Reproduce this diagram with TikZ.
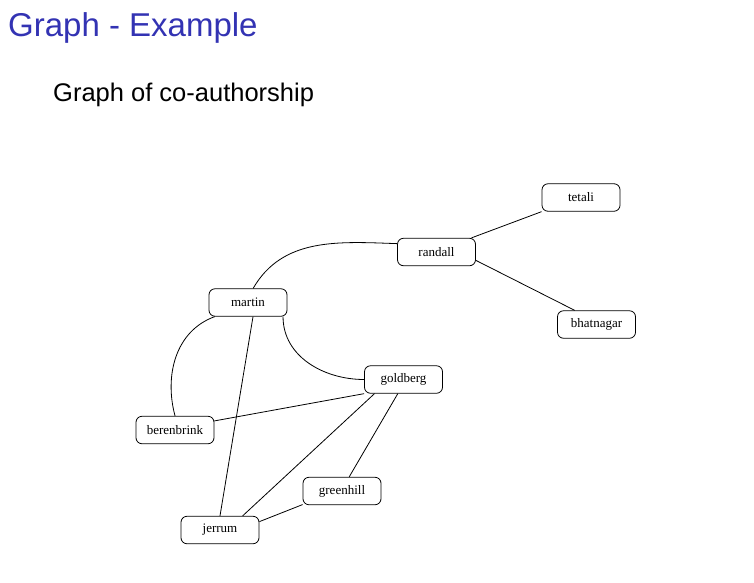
\documentclass[tikz,border=0pt]{standalone}
\usepackage{fontspec}
\setmainfont{Liberation Serif}
\newfontfamily\titlefont{Liberation Sans}
\usetikzlibrary{positioning}
\definecolor{TitleBlue}{HTML}{3333B3}

\begin{document}
\begin{tikzpicture}[
    x=1pt, y=-1pt,
    author/.style={rectangle, draw=black, fill=white, rounded corners=6pt, minimum height=27.5pt, minimum width=78pt, line width=0.8pt, font=\fontsize{13}{15}\selectfont, inner sep=0pt},
    link/.style={draw=black, line width=0.8pt}
  ]
    \useasboundingbox (0,0) rectangle (754,582);

    % Titles
    \node (title) [anchor=base west, inner sep=0pt, font=\titlefont\fontsize{33}{36}\selectfont, text=TitleBlue] at (8,36) {Graph - Example};
    \node (subtitle) [anchor=base west, inner sep=0pt, font=\titlefont\fontsize{25.5}{28}\selectfont] at (53,101) {Graph of co-authorship};

    % Authors
    \node (tetali) [author] at (581,197.5) {tetali};
    \node (randall) [author] at (436.5,252) {randall};
    \node (martin) [author] at (248,302.5) {martin};
    \node (bhatnagar) [author] at (596.5,324.5) {bhatnagar};
    \node (goldberg) [author] at (403.5,379.5) {goldberg};
    \node (berenbrink) [author] at (175,430) {berenbrink};
    \node (greenhill) [author] at (342,491) {greenhill};
    \node (jerrum) [author] at (220,530) {jerrum};

    % Co-authorship links
    \draw [link] (martin.70) to [out=60, in=178] (randall.168);
    \draw [link] (martin.203) to [out=200, in=105] (berenbrink.north);
    \draw [link] (martin.-22) to [out=-90, in=180] (goldberg.west);
    \draw [link] ([xshift=5pt]martin.south) -- (jerrum.north);
    \draw [link] (randall.22) -- (tetali.south west);
    \draw [link] (randall.-12) -- (bhatnagar.147);
    \draw [link] (berenbrink.13) -- (goldberg.south west);
    \draw [link] (goldberg.206) -- (jerrum.32);
    \draw [link] (goldberg.248) -- (greenhill.63);
    \draw [link] (greenhill.199) -- (jerrum.12);
  \end{tikzpicture}
\end{document}
